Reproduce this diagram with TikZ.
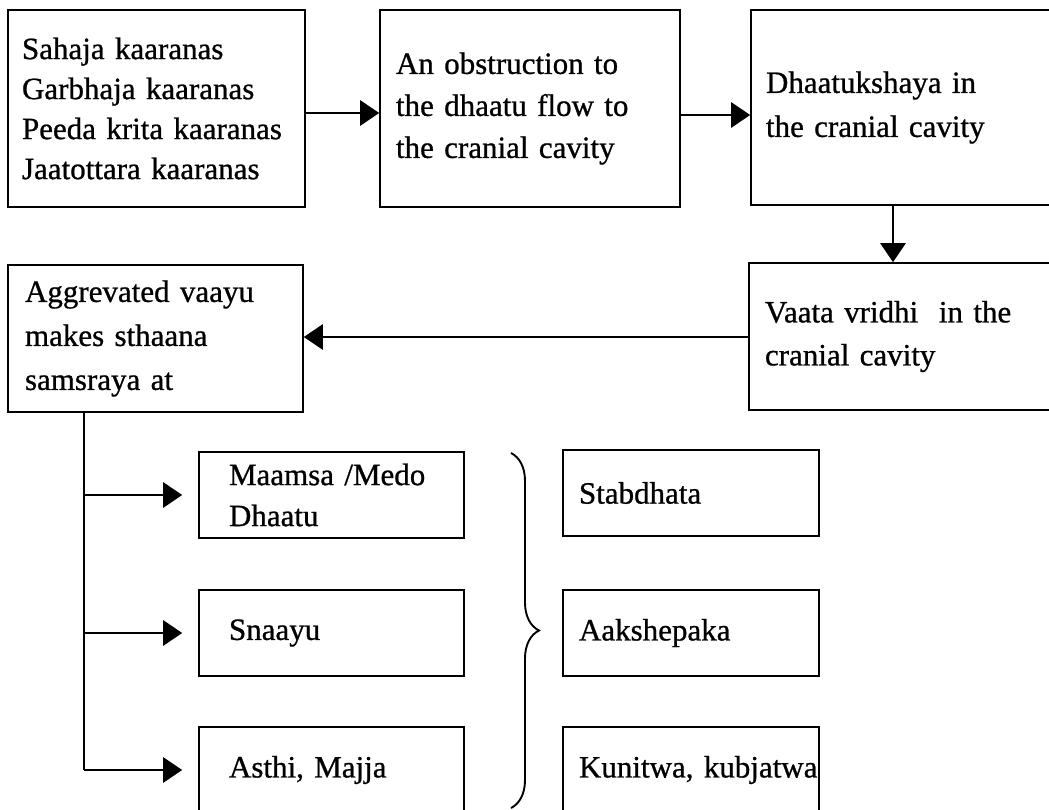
\documentclass[tikz,border=0pt]{standalone}
\usepackage{fontspec}
\setmainfont{Liberation Serif}
\newfontfamily\boxfont[FakeBold=0.8]{Liberation Serif}
\usetikzlibrary{arrows.meta,decorations.pathreplacing}
\begin{document}
\begin{tikzpicture}[x=1pt,y=-1pt,
  box/.style={draw, line width=1.6pt, rectangle, inner ysep=0pt, align=left,
    font=\boxfont\fontsize{31pt}{42pt}\selectfont},
  arr/.style={line width=2.8pt, -{Triangle[length=19pt,width=25pt]}},
  trunk/.style={line width=1.7pt},
  bracket/.style={line width=1.9pt, decorate, decoration={brace, amplitude=28pt}}]
\clip (0,0) rectangle (1049,809);
\fill[white] (0,0) rectangle (1049,809);

% top row
\node[box, minimum width=297pt, minimum height=197pt, inner xsep=14pt, text width=269pt,
  font=\boxfont\fontsize{31pt}{40pt}\selectfont] (b1) at (156.5,108.5)
  {Sahaja kaaranas\\Garbhaja kaaranas\\Peeda krita kaaranas\\Jaatottara kaaranas};
\node[box, minimum width=300pt, minimum height=197pt, inner xsep=16pt, text width=268pt] (b2) at (530,108.5)
  {An obstruction to\\the dhaatu flow to\\the cranial cavity};
\node[box, minimum width=320pt, minimum height=195pt, inner xsep=15pt, text width=290pt,
  font=\boxfont\fontsize{31pt}{44pt}\selectfont] (b3) at (911,107.5)
  {Dhaatukshaya in\\the cranial cavity};

% second row
\node[box, minimum width=322pt, minimum height=147pt, inner xsep=16pt, text width=290pt,
  font=\boxfont\fontsize{31pt}{43pt}\selectfont] (b4) at (910,336.5)
  {Vaata vridhi\ \ in the\\cranial cavity};
\node[box, minimum width=295pt, minimum height=147pt, inner xsep=17pt, text width=261pt,
  font=\boxfont\fontsize{31pt}{44pt}\selectfont] (b5) at (155.5,338.5)
  {Aggrevated vaayu\\makes sthaana\\samsraya at};

% sites of samsraya
\node[box, minimum width=265pt, minimum height=86pt, inner xsep=30pt, text width=205pt,
  font=\boxfont\fontsize{31pt}{41pt}\selectfont] (m1) at (331.5,495) {Maamsa /Medo\\Dhaatu};
\node[box, minimum width=265pt, minimum height=86pt, inner xsep=30pt, text width=205pt] (m2) at (331.5,633) {Snaayu};
\node[box, minimum width=265pt, minimum height=86pt, inner xsep=30pt, text width=205pt] (m3) at (331.5,770) {Asthi, Majja};

% resulting features
\node[box, minimum width=256pt, minimum height=86pt, inner xsep=16pt, text width=224pt] (s1) at (691,493) {Stabdhata};
\node[box, minimum width=256pt, minimum height=86pt, inner xsep=16pt, text width=224pt] (s2) at (691,633) {Aakshepaka};
\node[box, minimum width=256pt, minimum height=86pt, inner xsep=16pt, text width=224pt] (s3) at (691,770) {\mbox{Kunitwa, kubjatwa}};

% flow connectors
\draw[arr] (b1.east |- 0,113) -- (b2.west |- 0,113);
\draw[arr] (b2.east |- 0,115) -- (b3.west |- 0,115);
\coordinate (dn) at (893,0);
\draw[arr] (b3.south -| dn) -- (b4.north -| dn);
\draw[arr] (b4.west |- 0,337) -- (b5.east |- 0,337);

% branching from the aggravated vaayu
\coordinate (tr) at (84,0);
\draw[trunk] (b5.south -| tr) -- (tr |- m3.west);
\draw[arr, shorten >=16pt] (tr |- m1.west) -- (m1.west);
\draw[arr, shorten >=16pt] (tr |- m2.west) -- (m2.west);
\draw[arr, shorten >=16pt] (tr |- m3.west) -- (m3.west);

% brace joining sites to features
\draw[bracket] (511,453) -- (511,808);
\end{tikzpicture}
\end{document}
